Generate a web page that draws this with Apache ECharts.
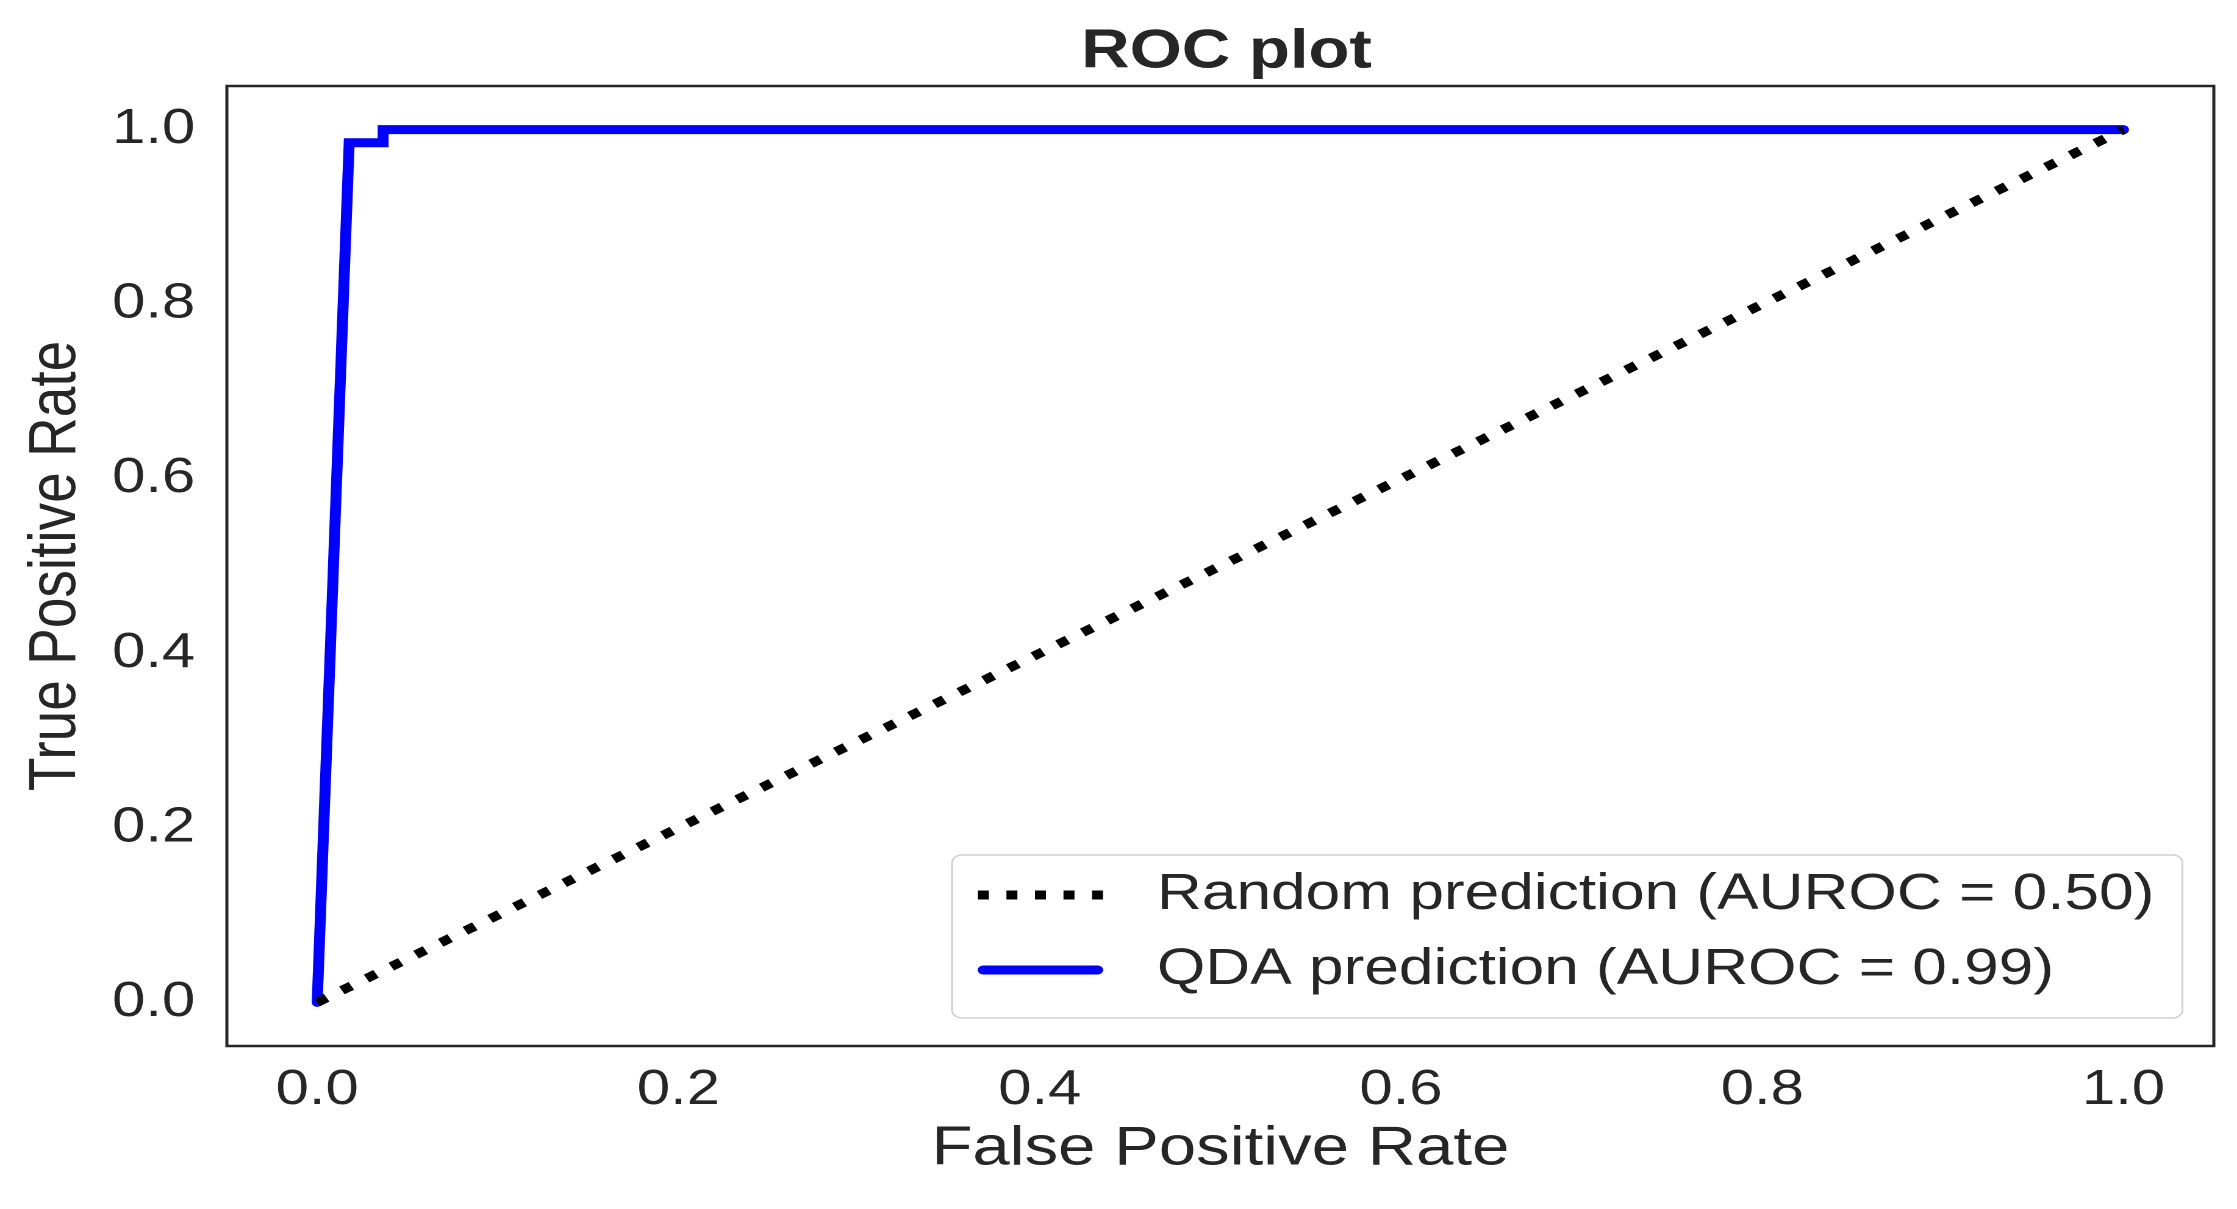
<!DOCTYPE html>
<html>
<head>
<meta charset="utf-8">
<script src="https://cdn.jsdelivr.net/npm/echarts@6/dist/echarts.min.js"></script>
<style>
  html, body { margin: 0; padding: 0; background: #ffffff; overflow: hidden; }
  #chart { width: 1834px; height: 1209px; transform: scaleX(1.21974); transform-origin: 0 0; }
</style>
</head>
<body>
<div id="chart"></div>
<script>
// ---- data ----
const chartTitle = 'ROC plot';
const xAxisName = 'False Positive Rate';
const yAxisName = 'True Positive Rate';
const tickValues = [0.0, 0.2, 0.4, 0.6, 0.8, 1.0];

const randomName = 'Random prediction (AUROC = 0.50)';
const randomFpr = [0.0, 1.0];
const randomTpr = [0.0, 1.0];

const qdaName = 'QDA prediction (AUROC = 0.99)';
const qdaFpr = [0.0, 0.0177, 0.0365, 0.0365, 1.0];
const qdaTpr = [0.0, 0.985, 0.985, 1.0, 1.0];

const toPairs = (xs, ys) => xs.map((x, i) => [x, ys[i]]);

const FONT = 'Liberation Sans, Arial, Helvetica, sans-serif';
const TXT = '#262626';

// legend sample glyphs (line samples)
const dottedIcon = 'path://M0,0h9v9h-9z M23.4,0h9v9h-9z M46.8,0h9v9h-9z M70.2,0h9v9h-9z M93.6,0h9v9h-9z';
const solidIcon = 'path://M4.5,0h94a4.5,4.5 0 0 1 0,9h-94a4.5,4.5 0 0 1 0,-9z';

const chart = echarts.init(document.getElementById('chart'), null, { renderer: 'canvas', devicePixelRatio: 2 });

const axisCommon = {
  type: 'value',
  min: -0.05,
  max: 1.05,
  splitLine: { show: false },
  axisTick: { show: false },
  axisLine: { show: false },
  nameLocation: 'middle',
  nameTextStyle: { fontFamily: FONT, fontSize: 55, color: TXT }
};

chart.setOption({
  backgroundColor: '#ffffff',
  animation: false,
  title: {
    text: chartTitle,
    left: 1000.5,
    textAlign: 'center',
    top: 20,
    textStyle: { fontFamily: FONT, fontSize: 55, fontWeight: 'bold', color: TXT }
  },
  grid: {
    left: 186, right: 19, top: 86, bottom: 163,
    show: true, borderColor: TXT, borderWidth: 2.5, backgroundColor: '#ffffff'
  },
  xAxis: Object.assign({}, axisCommon, {
    name: xAxisName,
    nameGap: 76,
    axisLabel: {
      customValues: tickValues,
      formatter: v => v.toFixed(1),
      margin: 20,
      fontFamily: FONT, fontSize: 49, color: TXT
    }
  }),
  yAxis: Object.assign({}, axisCommon, {
    name: yAxisName,
    nameGap: 112,
    axisLabel: {
      customValues: tickValues,
      formatter: v => v.toFixed(1),
      margin: 26,
      fontFamily: FONT, fontSize: 49, color: TXT
    }
  }),
  legend: {
    orient: 'vertical',
    left: 780.5,
    top: 855,
    data: [
      { name: randomName, icon: dottedIcon, itemStyle: { color: '#000000' } },
      { name: qdaName, icon: solidIcon, itemStyle: { color: '#0000ff' } }
    ],
    itemWidth: 103,
    itemHeight: 9,
    itemGap: 15,
    padding: [10, 23, 18, 21],
    borderColor: '#d0d0d0',
    borderWidth: 1.5,
    borderRadius: 8,
    backgroundColor: '#ffffff',
    textStyle: { fontFamily: FONT, fontSize: 51, color: TXT, lineHeight: 60, padding: [0, 0, 0, 39] }
  },
  series: [
    {
      name: qdaName,
      type: 'line',
      data: toPairs(qdaFpr, qdaTpr),
      symbol: 'none',
      lineStyle: { color: '#0000ff', width: 9, cap: 'round', join: 'miter' },
      itemStyle: { color: '#0000ff' },
      z: 2
    },
    {
      name: randomName,
      type: 'line',
      data: toPairs(randomFpr, randomTpr),
      symbol: 'none',
      lineStyle: { color: '#000000', width: 9, type: [9, 14.5], cap: 'butt' },
      itemStyle: { color: '#000000' },
      z: 3
    }
  ]
});
</script>
</body>
</html>
